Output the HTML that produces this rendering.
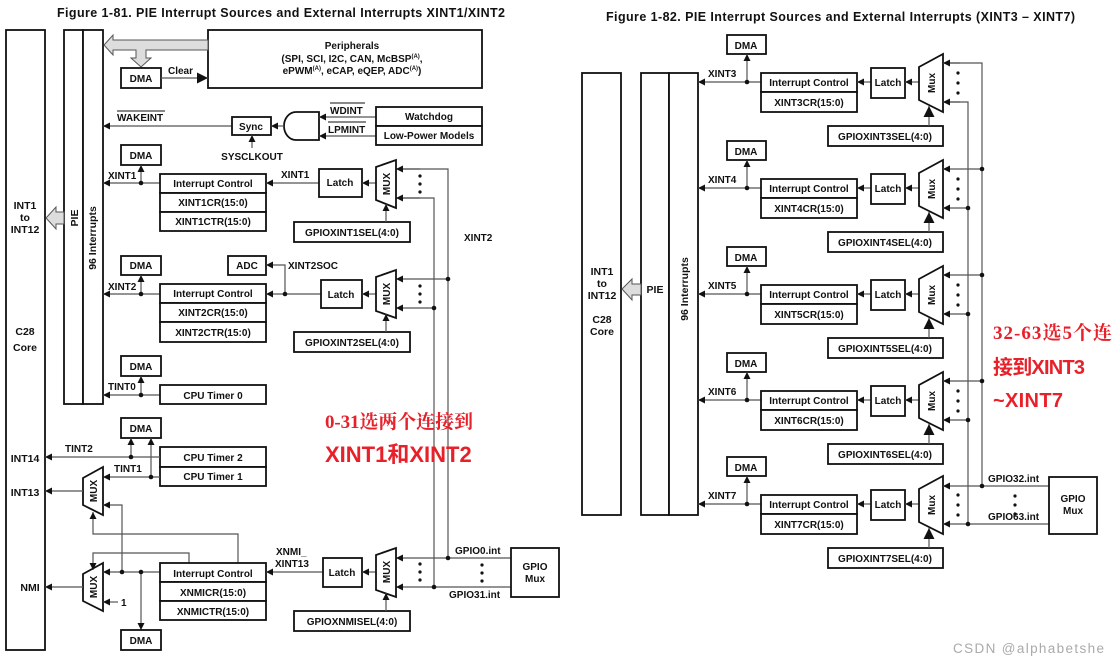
<!DOCTYPE html>
<html><head><meta charset="utf-8"><style>
html,body{margin:0;padding:0;background:#fff;}
svg{display:block;}
text{font-family:"Liberation Sans",Arial,sans-serif;font-weight:bold;fill:#111;}
.b{fill:#fff;stroke:#111;stroke-width:1.8;}
.l{stroke:#555;stroke-width:1.2;fill:none;}
.t{font-size:10px;}
.s{font-size:10.5px;}
</style></head><body>
<svg width="1120" height="665" viewBox="0 0 1120 665" xmlns="http://www.w3.org/2000/svg">
<defs>
<marker id="a" viewBox="0 0 10 10" refX="10" refY="5" markerWidth="7" markerHeight="7" orient="auto-start-reverse" markerUnits="userSpaceOnUse"><path d="M0,0 L10,5 L0,10 z" fill="#111"/></marker>
<marker id="A" viewBox="0 0 10 10" refX="10" refY="5" markerWidth="11" markerHeight="11" orient="auto" markerUnits="userSpaceOnUse"><path d="M0,0 L10,5 L0,10 z" fill="#111"/></marker>
</defs>

<!-- ============ LEFT FIGURE ============ -->
<text x="57" y="17" font-size="12.5" textLength="448">Figure 1-81. PIE Interrupt Sources and External Interrupts XINT1/XINT2</text>

<rect class="b" x="6" y="30" width="39" height="620"/>
<text class="s" x="25" y="209" text-anchor="middle">INT1</text>
<text class="s" x="25" y="221" text-anchor="middle">to</text>
<text class="s" x="25" y="233" text-anchor="middle">INT12</text>
<text class="s" x="25" y="335" text-anchor="middle">C28</text>
<text class="s" x="25" y="351" text-anchor="middle">Core</text>
<text class="s" x="25" y="462" text-anchor="middle">INT14</text>
<text class="s" x="25" y="496" text-anchor="middle">INT13</text>
<text class="s" x="30" y="591" text-anchor="middle">NMI</text>

<rect class="b" x="64" y="30" width="19" height="374"/>
<rect class="b" x="83" y="30" width="20" height="374"/>
<text class="s" transform="translate(78,218) rotate(-90)" text-anchor="middle">PIE</text>
<text class="s" transform="translate(96,238) rotate(-90)" text-anchor="middle">96 Interrupts</text>
<polygon points="64,212 56,212 56,207 46,218 56,229 56,224 64,224" fill="#ddd" stroke="#555" stroke-width="1"/>

<!-- peripherals -->
<rect class="b" x="208" y="30" width="274" height="58"/>
<text class="t" x="352" y="49" text-anchor="middle">Peripherals</text>
<text class="t" x="352" y="62" text-anchor="middle">(SPI, SCI, I2C, CAN, McBSP<tspan font-size="6" dy="-4">(A)</tspan><tspan dy="4">,</tspan></text>
<text class="t" x="352" y="74" text-anchor="middle">ePWM<tspan font-size="6" dy="-4">(A)</tspan><tspan dy="4">, eCAP, eQEP, ADC</tspan><tspan font-size="6" dy="-4">(A)</tspan><tspan dy="4">)</tspan></text>
<polygon points="208,40 113,40 113,35 104,45 113,55 113,50 136,50 136,58 131,58 141,67 151,58 146,58 146,50 208,50" fill="#ddd" stroke="#555" stroke-width="1"/>
<rect class="b" x="121" y="68" width="40" height="20"/>
<text class="t" x="141" y="82" text-anchor="middle">DMA</text>
<line class="l" x1="161" y1="78" x2="208" y2="78" stroke="#111" stroke-width="1.5" marker-end="url(#A)"/>
<text class="t" x="168" y="74">Clear</text>

<!-- wakeint -->
<line class="l" x1="232" y1="126" x2="103" y2="126" marker-end="url(#a)"/>
<text class="t" x="117" y="121">WAKEINT</text>
<line x1="117" y1="111" x2="165" y2="111" stroke="#111" stroke-width="1"/>
<rect class="b" x="232" y="117" width="39" height="18"/>
<text class="t" x="251" y="130" text-anchor="middle">Sync</text>
<line class="l" x1="252" y1="148" x2="252" y2="135" marker-end="url(#a)"/>
<text class="t" x="252" y="160" text-anchor="middle">SYSCLKOUT</text>
<path d="M319,112 L296,112 A12,14 0 0 0 296,140 L319,140 Z" class="b"/>
<line class="l" x1="284" y1="126" x2="271" y2="126" marker-end="url(#a)"/>
<line class="l" x1="376" y1="117" x2="319" y2="117" marker-end="url(#a)"/>
<line class="l" x1="376" y1="136" x2="319" y2="136" marker-end="url(#a)"/>
<text class="t" x="330" y="114">WDINT</text>
<line x1="330" y1="103" x2="365" y2="103" stroke="#111" stroke-width="1"/>
<text class="t" x="328" y="133">LPMINT</text>
<line x1="328" y1="122" x2="366" y2="122" stroke="#111" stroke-width="1"/>
<rect class="b" x="376" y="107" width="106" height="19"/>
<rect class="b" x="376" y="126" width="106" height="19"/>
<text class="t" x="429" y="120" text-anchor="middle">Watchdog</text>
<text class="t" x="429" y="139" text-anchor="middle">Low-Power Models</text>

<!-- vertical GPIO lines left -->
<path class="l" d="M511,558 L448,558 L448,169 L396,169"/>
<path class="l" d="M511,587 L434,587 L434,198 L396,198"/>
<line class="l" x1="420" y1="169" x2="396" y2="169" marker-end="url(#a)"/>
<line class="l" x1="420" y1="198" x2="396" y2="198" marker-end="url(#a)"/>
<line class="l" x1="448" y1="279" x2="396" y2="279" marker-end="url(#a)"/>
<line class="l" x1="434" y1="308" x2="396" y2="308" marker-end="url(#a)"/>
<line class="l" x1="448" y1="558" x2="396" y2="558" marker-end="url(#a)"/>
<line class="l" x1="434" y1="587" x2="396" y2="587" marker-end="url(#a)"/>
<g fill="#111"><circle cx="448" cy="279" r="2.3"/><circle cx="434" cy="308" r="2.3"/><circle cx="448" cy="558" r="2.3"/><circle cx="434" cy="587" r="2.3"/></g>
<text class="t" x="464" y="241">XINT2</text>

<!-- XINT1 row -->
<rect class="b" x="121" y="145" width="40" height="20"/>
<text class="t" x="141" y="159" text-anchor="middle">DMA</text>
<line class="l" x1="160" y1="183" x2="103" y2="183" marker-end="url(#a)"/>
<line class="l" x1="141" y1="183" x2="141" y2="165" marker-end="url(#a)"/>
<circle cx="141" cy="183" r="2.3" fill="#111"/>
<text class="t" x="108" y="179">XINT1</text>
<rect class="b" x="160" y="174" width="106" height="19"/>
<rect class="b" x="160" y="193" width="106" height="19"/>
<rect class="b" x="160" y="212" width="106" height="19"/>
<text class="t" x="213" y="187" text-anchor="middle">Interrupt Control</text>
<text class="t" x="213" y="206" text-anchor="middle">XINT1CR(15:0)</text>
<text class="t" x="213" y="225" text-anchor="middle">XINT1CTR(15:0)</text>
<line class="l" x1="319" y1="183" x2="266" y2="183" marker-end="url(#a)"/>
<text class="t" x="281" y="178">XINT1</text>
<rect class="b" x="319" y="169" width="43" height="28"/>
<text class="t" x="340" y="186" text-anchor="middle">Latch</text>
<line class="l" x1="376" y1="183" x2="362" y2="183" marker-end="url(#a)"/>
<polygon class="b" points="376,167 396,160 396,208 376,200"/>
<text class="t" transform="translate(390,184) rotate(-90)" text-anchor="middle">MUX</text>
<g fill="#111"><circle cx="420" cy="176" r="1.6"/><circle cx="420" cy="184" r="1.6"/><circle cx="420" cy="192" r="1.6"/></g>
<rect class="b" x="294" y="222" width="116" height="20"/>
<text class="t" x="352" y="236" text-anchor="middle">GPIOXINT1SEL(4:0)</text>
<line class="l" x1="386" y1="222" x2="386" y2="204" marker-end="url(#a)"/>

<!-- XINT2 row -->
<rect class="b" x="121" y="256" width="40" height="19"/>
<text class="t" x="141" y="269" text-anchor="middle">DMA</text>
<rect class="b" x="228" y="256" width="38" height="19"/>
<text class="t" x="247" y="269" text-anchor="middle">ADC</text>
<line class="l" x1="160" y1="294" x2="103" y2="294" marker-end="url(#a)"/>
<line class="l" x1="141" y1="294" x2="141" y2="275" marker-end="url(#a)"/>
<circle cx="141" cy="294" r="2.3" fill="#111"/>
<text class="t" x="108" y="290">XINT2</text>
<rect class="b" x="160" y="284" width="106" height="19"/>
<rect class="b" x="160" y="303" width="106" height="19"/>
<rect class="b" x="160" y="322" width="106" height="20"/>
<text class="t" x="213" y="297" text-anchor="middle">Interrupt Control</text>
<text class="t" x="213" y="316" text-anchor="middle">XINT2CR(15:0)</text>
<text class="t" x="213" y="336" text-anchor="middle">XINT2CTR(15:0)</text>
<line class="l" x1="321" y1="294" x2="266" y2="294" marker-end="url(#a)"/>
<path class="l" d="M285,294 L285,265 L266,265" marker-end="url(#a)"/>
<circle cx="285" cy="294" r="2.3" fill="#111"/>
<text class="t" x="288" y="269">XINT2SOC</text>
<rect class="b" x="321" y="280" width="41" height="28"/>
<text class="t" x="341" y="298" text-anchor="middle">Latch</text>
<line class="l" x1="376" y1="294" x2="362" y2="294" marker-end="url(#a)"/>
<polygon class="b" points="376,277 396,270 396,318 376,311"/>
<text class="t" transform="translate(390,294) rotate(-90)" text-anchor="middle">MUX</text>
<g fill="#111"><circle cx="420" cy="286" r="1.6"/><circle cx="420" cy="294" r="1.6"/><circle cx="420" cy="302" r="1.6"/></g>
<rect class="b" x="294" y="332" width="116" height="20"/>
<text class="t" x="352" y="346" text-anchor="middle">GPIOXINT2SEL(4:0)</text>
<line class="l" x1="386" y1="332" x2="386" y2="314" marker-end="url(#a)"/>

<!-- TINT0 -->
<rect class="b" x="121" y="356" width="40" height="20"/>
<text class="t" x="141" y="370" text-anchor="middle">DMA</text>
<line class="l" x1="160" y1="395" x2="103" y2="395" marker-end="url(#a)"/>
<line class="l" x1="141" y1="395" x2="141" y2="376" marker-end="url(#a)"/>
<circle cx="141" cy="395" r="2.3" fill="#111"/>
<text class="t" x="108" y="390">TINT0</text>
<rect class="b" x="160" y="385" width="106" height="19"/>
<text class="t" x="213" y="399" text-anchor="middle">CPU Timer 0</text>

<!-- Timers 1/2 -->
<rect class="b" x="121" y="418" width="40" height="20"/>
<text class="t" x="141" y="432" text-anchor="middle">DMA</text>
<rect class="b" x="160" y="447" width="106" height="20"/>
<rect class="b" x="160" y="467" width="106" height="19"/>
<text class="t" x="213" y="461" text-anchor="middle">CPU Timer 2</text>
<text class="t" x="213" y="480" text-anchor="middle">CPU Timer 1</text>
<line class="l" x1="160" y1="457" x2="45" y2="457" marker-end="url(#a)"/>
<text class="t" x="65" y="452">TINT2</text>
<line class="l" x1="131" y1="457" x2="131" y2="438" marker-end="url(#a)"/>
<line class="l" x1="160" y1="477" x2="103" y2="477" marker-end="url(#a)"/>
<text class="t" x="114" y="472">TINT1</text>
<line class="l" x1="151" y1="477" x2="151" y2="438" marker-end="url(#a)"/>
<g fill="#111"><circle cx="131" cy="457" r="2.3"/><circle cx="151" cy="477" r="2.3"/></g>
<polygon class="b" points="83,478 103,467 103,515 83,505"/>
<text class="t" transform="translate(97,491) rotate(-90)" text-anchor="middle">MUX</text>
<line class="l" x1="83" y1="491" x2="45" y2="491" marker-end="url(#a)"/>
<path class="l" d="M122,572 L122,505 L103,505" marker-end="url(#a)"/>
<path class="l" d="M238,563 L238,534 L93,534 L93,512" marker-end="url(#a)"/>

<!-- NMI -->
<polygon class="b" points="83,574 103,563 103,611 83,601"/>
<text class="t" transform="translate(97,587) rotate(-90)" text-anchor="middle">MUX</text>
<line class="l" x1="83" y1="587" x2="45" y2="587" marker-end="url(#a)"/>
<path class="l" d="M189,563 L189,553 L93,553 L93,570" marker-end="url(#a)"/>
<line class="l" x1="160" y1="572" x2="103" y2="572" marker-end="url(#a)"/>
<line class="l" x1="118" y1="602" x2="103" y2="602" marker-end="url(#a)"/>
<text class="t" x="121" y="606">1</text>
<line class="l" x1="141" y1="572" x2="141" y2="630" marker-end="url(#a)"/>
<g fill="#111"><circle cx="122" cy="572" r="2.3"/><circle cx="141" cy="572" r="2.3"/></g>
<rect class="b" x="121" y="630" width="40" height="20"/>
<text class="t" x="141" y="644" text-anchor="middle">DMA</text>
<rect class="b" x="160" y="563" width="106" height="19"/>
<rect class="b" x="160" y="582" width="106" height="19"/>
<rect class="b" x="160" y="601" width="106" height="19"/>
<text class="t" x="213" y="577" text-anchor="middle">Interrupt Control</text>
<text class="t" x="213" y="596" text-anchor="middle">XNMICR(15:0)</text>
<text class="t" x="213" y="615" text-anchor="middle">XNMICTR(15:0)</text>
<line class="l" x1="323" y1="572" x2="266" y2="572" marker-end="url(#a)"/>
<text class="t" x="276" y="555">XNMI_</text>
<text class="t" x="275" y="567">XINT13</text>
<rect class="b" x="323" y="558" width="39" height="29"/>
<text class="t" x="342" y="576" text-anchor="middle">Latch</text>
<line class="l" x1="376" y1="572" x2="362" y2="572" marker-end="url(#a)"/>
<polygon class="b" points="376,555 396,548 396,597 376,590"/>
<text class="t" transform="translate(390,572) rotate(-90)" text-anchor="middle">MUX</text>
<g fill="#111"><circle cx="420" cy="564" r="1.6"/><circle cx="420" cy="572" r="1.6"/><circle cx="420" cy="580" r="1.6"/>
<circle cx="482" cy="565" r="1.6"/><circle cx="482" cy="573" r="1.6"/><circle cx="482" cy="581" r="1.6"/></g>
<rect class="b" x="294" y="611" width="116" height="20"/>
<text class="t" x="352" y="625" text-anchor="middle">GPIOXNMISEL(4:0)</text>
<line class="l" x1="386" y1="611" x2="386" y2="593" marker-end="url(#a)"/>
<rect class="b" x="511" y="548" width="48" height="49"/>
<text class="t" x="535" y="570" text-anchor="middle">GPIO</text>
<text class="t" x="535" y="582" text-anchor="middle">Mux</text>
<text class="t" x="455" y="554">GPIO0.int</text>
<text class="t" x="449" y="598">GPIO31.int</text>

<text x="325" y="428" font-size="19" style="font-family:'Liberation Serif','Noto Serif CJK SC',serif;fill:#e8202a" textLength="148">0-31选两个连接到</text>
<text x="325" y="462" font-size="22" style="font-family:'Liberation Sans','Noto Sans CJK SC',sans-serif;fill:#e8202a">XINT1和XINT2</text>

<!-- ============ RIGHT FIGURE ============ -->
<text x="606" y="21" font-size="12.5" textLength="469">Figure 1-82. PIE Interrupt Sources and External Interrupts (XINT3 – XINT7)</text>
<rect class="b" x="582" y="73" width="39" height="442"/>
<text class="s" x="602" y="275" text-anchor="middle">INT1</text>
<text class="s" x="602" y="287" text-anchor="middle">to</text>
<text class="s" x="602" y="299" text-anchor="middle">INT12</text>
<text class="s" x="602" y="323" text-anchor="middle">C28</text>
<text class="s" x="602" y="335" text-anchor="middle">Core</text>
<rect class="b" x="641" y="73" width="28" height="442"/>
<rect class="b" x="669" y="73" width="29" height="442"/>
<text class="s" x="655" y="293" text-anchor="middle">PIE</text>
<text class="s" transform="translate(688,289) rotate(-90)" text-anchor="middle">96 Interrupts</text>
<polygon points="641,284 632,284 632,279 622,289 632,300 632,295 641,295" fill="#ddd" stroke="#555" stroke-width="1"/>

<path class="l" d="M1049,486 L982,486 L982,63 L943,63"/>
<path class="l" d="M1049,524 L968,524 L968,102 L943,102"/>

<g>
<rect class="b" x="727" y="35" width="39" height="19"/><text class="t" x="746" y="49" text-anchor="middle">DMA</text>
<line class="l" x1="761" y1="82" x2="698" y2="82" marker-end="url(#a)"/>
<line class="l" x1="747" y1="82" x2="747" y2="54" marker-end="url(#a)"/><circle cx="747" cy="82" r="2.3" fill="#111"/>
<text class="t" x="708" y="77">XINT3</text>
<rect class="b" x="761" y="73" width="96" height="19"/><rect class="b" x="761" y="92" width="96" height="20"/>
<text class="t" x="809" y="86" text-anchor="middle">Interrupt Control</text><text class="t" x="809" y="106" text-anchor="middle">XINT3CR(15:0)</text>
<line class="l" x1="871" y1="82" x2="857" y2="82" marker-end="url(#a)"/>
<rect class="b" x="871" y="68" width="34" height="30"/><text class="t" x="888" y="86" text-anchor="middle">Latch</text>
<line class="l" x1="919" y1="82" x2="905" y2="82" marker-end="url(#a)"/>
<polygon class="b" points="919,67 943,54 943,112 919,100"/><text class="t" transform="translate(935,83) rotate(-90)" text-anchor="middle">Mux</text>
<line class="l" x1="960" y1="63" x2="943" y2="63" marker-end="url(#a)"/><line class="l" x1="960" y1="102" x2="943" y2="102" marker-end="url(#a)"/>
<g fill="#111"><circle cx="958" cy="73" r="1.6"/><circle cx="958" cy="83" r="1.6"/><circle cx="958" cy="93" r="1.6"/></g>
<rect class="b" x="828" y="126" width="115" height="20"/><text class="t" x="885" y="140" text-anchor="middle">GPIOXINT3SEL(4:0)</text>
<line class="l" x1="929" y1="126" x2="929" y2="106" stroke="#111" stroke-width="1.5" marker-end="url(#A)"/>
</g>

<g>
<rect class="b" x="727" y="141" width="39" height="19"/><text class="t" x="746" y="155" text-anchor="middle">DMA</text>
<line class="l" x1="761" y1="188" x2="698" y2="188" marker-end="url(#a)"/>
<line class="l" x1="747" y1="188" x2="747" y2="160" marker-end="url(#a)"/><circle cx="747" cy="188" r="2.3" fill="#111"/>
<text class="t" x="708" y="183">XINT4</text>
<rect class="b" x="761" y="179" width="96" height="19"/><rect class="b" x="761" y="198" width="96" height="20"/>
<text class="t" x="809" y="192" text-anchor="middle">Interrupt Control</text><text class="t" x="809" y="212" text-anchor="middle">XINT4CR(15:0)</text>
<line class="l" x1="871" y1="188" x2="857" y2="188" marker-end="url(#a)"/>
<rect class="b" x="871" y="174" width="34" height="30"/><text class="t" x="888" y="192" text-anchor="middle">Latch</text>
<line class="l" x1="919" y1="188" x2="905" y2="188" marker-end="url(#a)"/>
<polygon class="b" points="919,173 943,160 943,218 919,206"/><text class="t" transform="translate(935,189) rotate(-90)" text-anchor="middle">Mux</text>
<line class="l" x1="982" y1="169" x2="943" y2="169" marker-end="url(#a)"/><line class="l" x1="968" y1="208" x2="943" y2="208" marker-end="url(#a)"/>
<g fill="#111"><circle cx="982" cy="169" r="2.3"/><circle cx="968" cy="208" r="2.3"/><circle cx="958" cy="179" r="1.6"/><circle cx="958" cy="189" r="1.6"/><circle cx="958" cy="199" r="1.6"/></g>
<rect class="b" x="828" y="232" width="115" height="20"/><text class="t" x="885" y="246" text-anchor="middle">GPIOXINT4SEL(4:0)</text>
<line class="l" x1="929" y1="232" x2="929" y2="212" stroke="#111" stroke-width="1.5" marker-end="url(#A)"/>
</g>

<g>
<rect class="b" x="727" y="247" width="39" height="19"/><text class="t" x="746" y="261" text-anchor="middle">DMA</text>
<line class="l" x1="761" y1="294" x2="698" y2="294" marker-end="url(#a)"/>
<line class="l" x1="747" y1="294" x2="747" y2="266" marker-end="url(#a)"/><circle cx="747" cy="294" r="2.3" fill="#111"/>
<text class="t" x="708" y="289">XINT5</text>
<rect class="b" x="761" y="285" width="96" height="19"/><rect class="b" x="761" y="304" width="96" height="20"/>
<text class="t" x="809" y="298" text-anchor="middle">Interrupt Control</text><text class="t" x="809" y="318" text-anchor="middle">XINT5CR(15:0)</text>
<line class="l" x1="871" y1="294" x2="857" y2="294" marker-end="url(#a)"/>
<rect class="b" x="871" y="280" width="34" height="30"/><text class="t" x="888" y="298" text-anchor="middle">Latch</text>
<line class="l" x1="919" y1="294" x2="905" y2="294" marker-end="url(#a)"/>
<polygon class="b" points="919,279 943,266 943,324 919,312"/><text class="t" transform="translate(935,295) rotate(-90)" text-anchor="middle">Mux</text>
<line class="l" x1="982" y1="275" x2="943" y2="275" marker-end="url(#a)"/><line class="l" x1="968" y1="314" x2="943" y2="314" marker-end="url(#a)"/>
<g fill="#111"><circle cx="982" cy="275" r="2.3"/><circle cx="968" cy="314" r="2.3"/><circle cx="958" cy="285" r="1.6"/><circle cx="958" cy="295" r="1.6"/><circle cx="958" cy="305" r="1.6"/></g>
<rect class="b" x="828" y="338" width="115" height="20"/><text class="t" x="885" y="352" text-anchor="middle">GPIOXINT5SEL(4:0)</text>
<line class="l" x1="929" y1="338" x2="929" y2="318" stroke="#111" stroke-width="1.5" marker-end="url(#A)"/>
</g>

<g>
<rect class="b" x="727" y="353" width="39" height="19"/><text class="t" x="746" y="367" text-anchor="middle">DMA</text>
<line class="l" x1="761" y1="400" x2="698" y2="400" marker-end="url(#a)"/>
<line class="l" x1="747" y1="400" x2="747" y2="372" marker-end="url(#a)"/><circle cx="747" cy="400" r="2.3" fill="#111"/>
<text class="t" x="708" y="395">XINT6</text>
<rect class="b" x="761" y="391" width="96" height="19"/><rect class="b" x="761" y="410" width="96" height="20"/>
<text class="t" x="809" y="404" text-anchor="middle">Interrupt Control</text><text class="t" x="809" y="424" text-anchor="middle">XINT6CR(15:0)</text>
<line class="l" x1="871" y1="400" x2="857" y2="400" marker-end="url(#a)"/>
<rect class="b" x="871" y="386" width="34" height="30"/><text class="t" x="888" y="404" text-anchor="middle">Latch</text>
<line class="l" x1="919" y1="400" x2="905" y2="400" marker-end="url(#a)"/>
<polygon class="b" points="919,385 943,372 943,430 919,418"/><text class="t" transform="translate(935,401) rotate(-90)" text-anchor="middle">Mux</text>
<line class="l" x1="982" y1="381" x2="943" y2="381" marker-end="url(#a)"/><line class="l" x1="968" y1="420" x2="943" y2="420" marker-end="url(#a)"/>
<g fill="#111"><circle cx="982" cy="381" r="2.3"/><circle cx="968" cy="420" r="2.3"/><circle cx="958" cy="391" r="1.6"/><circle cx="958" cy="401" r="1.6"/><circle cx="958" cy="411" r="1.6"/></g>
<rect class="b" x="828" y="444" width="115" height="20"/><text class="t" x="885" y="458" text-anchor="middle">GPIOXINT6SEL(4:0)</text>
<line class="l" x1="929" y1="444" x2="929" y2="424" stroke="#111" stroke-width="1.5" marker-end="url(#A)"/>
</g>

<g>
<rect class="b" x="727" y="457" width="39" height="19"/><text class="t" x="746" y="471" text-anchor="middle">DMA</text>
<line class="l" x1="761" y1="504" x2="698" y2="504" marker-end="url(#a)"/>
<line class="l" x1="747" y1="504" x2="747" y2="476" marker-end="url(#a)"/><circle cx="747" cy="504" r="2.3" fill="#111"/>
<text class="t" x="708" y="499">XINT7</text>
<rect class="b" x="761" y="495" width="96" height="19"/><rect class="b" x="761" y="514" width="96" height="20"/>
<text class="t" x="809" y="508" text-anchor="middle">Interrupt Control</text><text class="t" x="809" y="528" text-anchor="middle">XINT7CR(15:0)</text>
<line class="l" x1="871" y1="504" x2="857" y2="504" marker-end="url(#a)"/>
<rect class="b" x="871" y="490" width="34" height="30"/><text class="t" x="888" y="508" text-anchor="middle">Latch</text>
<line class="l" x1="919" y1="504" x2="905" y2="504" marker-end="url(#a)"/>
<polygon class="b" points="919,489 943,476 943,534 919,522"/><text class="t" transform="translate(935,505) rotate(-90)" text-anchor="middle">Mux</text>
<line class="l" x1="982" y1="486" x2="943" y2="486" marker-end="url(#a)"/><line class="l" x1="968" y1="524" x2="943" y2="524" marker-end="url(#a)"/>
<g fill="#111"><circle cx="982" cy="486" r="2.3"/><circle cx="968" cy="524" r="2.3"/><circle cx="958" cy="495" r="1.6"/><circle cx="958" cy="505" r="1.6"/><circle cx="958" cy="515" r="1.6"/>
<circle cx="1015" cy="496" r="1.6"/><circle cx="1015" cy="505" r="1.6"/><circle cx="1015" cy="514" r="1.6"/></g>
<rect class="b" x="828" y="548" width="115" height="20"/><text class="t" x="885" y="562" text-anchor="middle">GPIOXINT7SEL(4:0)</text>
<line class="l" x1="929" y1="548" x2="929" y2="528" stroke="#111" stroke-width="1.5" marker-end="url(#A)"/>
</g>

<rect class="b" x="1049" y="477" width="48" height="57"/>
<text class="t" x="1073" y="502" text-anchor="middle">GPIO</text>
<text class="t" x="1073" y="514" text-anchor="middle">Mux</text>
<text class="t" x="988" y="482">GPIO32.int</text>
<text class="t" x="988" y="520">GPIO63.int</text>

<text x="993" y="339" font-size="19" style="font-family:'Liberation Serif','Noto Serif CJK SC',serif;fill:#e8202a" textLength="119">32-63选5个连</text>
<text x="993" y="374" font-size="20" style="font-family:'Liberation Sans','Noto Sans CJK SC',sans-serif;fill:#e8202a" textLength="92">接到XINT3</text>
<text x="993" y="407" font-size="20" style="font-family:'Liberation Sans','Noto Sans CJK SC',sans-serif;fill:#e8202a" textLength="70">~XINT7</text>

<text x="953" y="653" font-size="13.5" style="font-weight:normal;fill:#aaa" textLength="151">CSDN @alphabetshe</text>
</svg>
</body></html>
